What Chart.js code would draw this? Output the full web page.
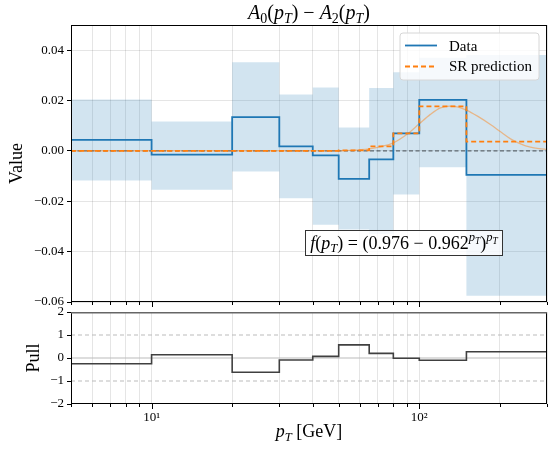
<!DOCTYPE html>
<html>
<head>
<meta charset="utf-8">
<script src="https://cdn.jsdelivr.net/npm/chart.js@4"></script>
<style>
  body { margin: 0; background: #fff; }
  #wrap { position: relative; width: 548px; height: 452px; overflow: hidden; }
  canvas { position: absolute; left: 0; }
  #top { top: 0; }
  #bot { top: 301px; }
</style>
</head>
<body>
<div id="wrap">
  <canvas id="top" width="548" height="314"></canvas>
  <canvas id="bot" width="548" height="151"></canvas>
</div>
<script>
// bin edges in pT (GeV)
const edges = [5, 10, 20, 30, 40, 50, 65, 80, 100, 150, 300];

// one value per bin
const dataVals = [0.0044, -0.0015, 0.0134, 0.0018, -0.0018, -0.0111, -0.0034, 0.0070, 0.0203, -0.0095];
const bandHi   = [0.0204, 0.0117, 0.0352, 0.0224, 0.0252, 0.0093, 0.0250, 0.0312, 0.0370, 0.0381];
const bandLo   = [-0.0118, -0.0154, -0.0082, -0.0188, -0.0293, -0.0312, -0.0330, -0.0173, -0.0065, -0.0575];
const srPred   = [0, 0, 0, 0, 0, 0.0002, 0.0018, 0.0070, 0.0177, 0.0037];
const pull     = [-0.25, 0.14, -0.62, -0.09, 0.07, 0.57, 0.20, -0.01, -0.10, 0.27];

// smooth SR curve
const curveX = [5, 30, 45, 55, 65, 72, 80, 90, 100, 110, 120, 130, 140, 150, 165, 185, 200, 220, 240, 260, 280, 300];
const curveY = [0, 0, 0, 0.0002, 0.0008, 0.0017, 0.0032, 0.0066, 0.0108, 0.0145, 0.0171, 0.0178, 0.0174, 0.0162, 0.0138, 0.0104, 0.0078, 0.0047, 0.0027, 0.0015, 0.0009, 0.0006];

// ticks
const xTicks = [5, 6, 7, 8, 9, 10, 20, 30, 40, 50, 60, 70, 80, 90, 100, 200, 300];
const xMajor = [10, 100];
const xLabels = {10: '10¹', 100: '10²'};
const yTicksTop = [-0.06, -0.04, -0.02, 0, 0.02, 0.04];
const yTicksPull = [-2, -1, 0, 1, 2];

const SERIF = '"Liberation Serif", "DejaVu Serif", serif';
const GRID = 'rgba(0,0,0,0.1)';

function steps(vals) {
  let pts = vals.map((v, i) => ({x: edges[i], y: v}));
  pts.push({x: edges[edges.length - 1], y: vals[vals.length - 1]});
  return pts;
}
function hline(y) {
  return [{x: edges[0], y: y}, {x: edges[edges.length - 1], y: y}];
}
function minus(s) { return s.replace('-', '−'); }

// simple math-ish text: [text, style]
const STY = {
  r: [false, 1, 0], i: [true, 1, 0],
  sub: [false, 0.7, 0.22], subi: [true, 0.7, 0.22],
  supi: [true, 0.7, -0.4], ssubi: [true, 0.52, -0.26]
};
function measureMath(ctx, parts, size) {
  let w = 0;
  parts.forEach(([t, s]) => {
    let [it, k] = STY[s];
    ctx.font = (it ? 'italic ' : '') + (size * k).toFixed(1) + 'px ' + SERIF;
    w += ctx.measureText(t).width;
  });
  return w;
}
function drawMath(ctx, parts, x, y, size, align) {
  let cx = align === 'center' ? x - measureMath(ctx, parts, size) / 2 : x;
  ctx.textAlign = 'left';
  ctx.textBaseline = 'alphabetic';
  ctx.fillStyle = '#000';
  parts.forEach(([t, s]) => {
    let [it, k, dy] = STY[s];
    ctx.font = (it ? 'italic ' : '') + (size * k).toFixed(1) + 'px ' + SERIF;
    ctx.fillText(t, cx, y + dy * size);
    cx += ctx.measureText(t).width;
  });
}
function rotLabel(ctx, text, x, y, size) {
  ctx.save();
  ctx.translate(x, y);
  ctx.rotate(-Math.PI / 2);
  ctx.font = size + 'px ' + SERIF;
  ctx.fillStyle = '#000';
  ctx.textAlign = 'center';
  ctx.textBaseline = 'middle';
  ctx.fillText(text, 0, 0);
  ctx.restore();
}
function frameAndTicks(chart) {
  const ctx = chart.ctx, a = chart.chartArea, xs = chart.scales.x;
  ctx.save();
  ctx.strokeStyle = '#000';
  ctx.lineWidth = 1;
  ctx.strokeRect(a.left + 0.5, a.top + 0.5, a.right - a.left - 1, a.bottom - a.top - 1);
  xTicks.forEach(v => {
    let px = Math.round(xs.getPixelForValue(v)) + 0.5;
    let len = xMajor.includes(v) ? 5 : 3;
    ctx.beginPath();
    ctx.moveTo(px, a.bottom);
    ctx.lineTo(px, a.bottom + len);
    ctx.stroke();
  });
  ctx.restore();
}

const topDecor = {
  id: 'topDecor',
  afterDraw(chart) {
    const ctx = chart.ctx, a = chart.chartArea;
    frameAndTicks(chart);
    ctx.save();
    // title
    drawMath(ctx, [['A', 'i'], ['0', 'sub'], ['(', 'r'], ['p', 'i'], ['T', 'subi'], [')', 'r'], [' − ', 'r'],
                   ['A', 'i'], ['2', 'sub'], ['(', 'r'], ['p', 'i'], ['T', 'subi'], [')', 'r']],
             (a.left + a.right) / 2, 19, 20, 'center');
    rotLabel(ctx, 'Value', 17, (a.top + a.bottom) / 2, 18);

    // legend
    let lx = 400, ly = 33, lw = 139, lh = 47, r = 3;
    ctx.beginPath();
    ctx.moveTo(lx + r, ly);
    ctx.arcTo(lx + lw, ly, lx + lw, ly + lh, r);
    ctx.arcTo(lx + lw, ly + lh, lx, ly + lh, r);
    ctx.arcTo(lx, ly + lh, lx, ly, r);
    ctx.arcTo(lx, ly, lx + lw, ly, r);
    ctx.closePath();
    ctx.fillStyle = 'rgba(255,255,255,0.8)';
    ctx.fill();
    ctx.strokeStyle = '#d6d6d6';
    ctx.lineWidth = 1;
    ctx.stroke();
    ctx.lineWidth = 1.8;
    ctx.strokeStyle = '#1f77b4';
    ctx.beginPath(); ctx.moveTo(405, 45.5); ctx.lineTo(437, 45.5); ctx.stroke();
    ctx.strokeStyle = '#ff7f0e';
    ctx.setLineDash([5, 3]);
    ctx.beginPath(); ctx.moveTo(405, 66.5); ctx.lineTo(437, 66.5); ctx.stroke();
    ctx.setLineDash([]);
    ctx.fillStyle = '#000';
    ctx.font = '15px ' + SERIF;
    ctx.textAlign = 'left';
    ctx.textBaseline = 'alphabetic';
    ctx.fillText('Data', 449, 50.5);
    ctx.fillText('SR prediction', 449, 71);

    // formula box
    const fparts = [['f', 'i'], ['(', 'r'], ['p', 'i'], ['T', 'subi'], [')', 'r'], [' = (0.976 − 0.962', 'r'],
                    ['p', 'supi'], ['T', 'ssubi'], [')', 'r'], ['p', 'supi'], ['T', 'ssubi']];
    let fw = measureMath(ctx, fparts, 18);
    let bx = Math.round(404 - fw / 2 - 5), by = 230, bw = Math.round(fw + 10), bh = 25;
    ctx.fillStyle = 'rgba(255,255,255,0.8)';
    ctx.fillRect(bx, by, bw, bh);
    ctx.strokeStyle = '#333';
    ctx.lineWidth = 1;
    ctx.strokeRect(bx + 0.5, by + 0.5, bw, bh);
    drawMath(ctx, fparts, 404, 248.5, 18, 'center');
    ctx.restore();
  }
};

const botDecor = {
  id: 'botDecor',
  afterDraw(chart) {
    const ctx = chart.ctx, a = chart.chartArea;
    frameAndTicks(chart);
    ctx.save();
    ctx.strokeStyle = '#666';
    ctx.lineWidth = 1.6;
    ctx.beginPath(); ctx.moveTo(a.left, a.top + 0.8); ctx.lineTo(a.right, a.top + 0.8); ctx.stroke();
    rotLabel(ctx, 'Pull', 34, (a.top + a.bottom) / 2, 18);
    drawMath(ctx, [['p', 'i'], ['T', 'subi'], [' [GeV]', 'r']], (a.left + a.right) / 2, 136, 18, 'center');
    ctx.restore();
  }
};

const tickFont = {family: SERIF, size: 13};

function xScale(showLabels) {
  return {
    type: 'logarithmic', min: 5, max: 300,
    afterBuildTicks: s => { s.ticks = xTicks.map(v => ({value: v, major: xMajor.includes(v)})); },
    ticks: {
      display: showLabels, autoSkip: false, maxRotation: 0, padding: 0,
      font: tickFont, color: '#000',
      callback: v => xLabels[v] || ''
    },
    // invisible tick marks only push the labels down; the visible ones come from frameAndTicks
    grid: {color: GRID, drawTicks: true, tickLength: 6, tickColor: 'rgba(0,0,0,0)'},
    border: {display: false},
    afterFit: s => { s.height = showLabels ? 48 : 12; }
  };
}

const common = {
  responsive: false,
  animation: false,
  events: [],
  elements: {point: {radius: 0}, line: {borderJoinStyle: 'miter'}},
  plugins: {legend: {display: false}, tooltip: {enabled: false}}
};

new Chart(document.getElementById('top'), {
  type: 'line',
  data: {
    datasets: [
      {label: 'band hi', data: steps(bandHi), stepped: true, fill: '+1', backgroundColor: 'rgba(31,119,180,0.2)', borderWidth: 0, order: 10},
      {label: 'band lo', data: steps(bandLo), stepped: true, fill: false, borderWidth: 0, order: 11},
      {label: 'zero', data: hline(0), borderColor: 'rgba(0,0,0,0.65)', borderWidth: 1, borderDash: [4, 2.5], order: 6},
      {label: 'curve', data: curveX.map((x, i) => ({x: x, y: curveY[i]})), borderColor: 'rgba(255,127,14,0.45)', borderWidth: 1.3, cubicInterpolationMode: 'monotone', order: 5},
      {label: 'Data', data: steps(dataVals), stepped: true, borderColor: '#1f77b4', borderWidth: 1.8, order: 3},
      {label: 'SR prediction', data: steps(srPred), stepped: true, borderColor: '#ff7f0e', borderWidth: 1.8, borderDash: [5, 3], order: 2}
    ]
  },
  options: Object.assign({}, common, {
    layout: {padding: {top: 25, right: 1, left: 0, bottom: 0}},
    scales: {
      x: xScale(false),
      y: {
        min: -0.06, max: 0.05,
        afterBuildTicks: s => { s.ticks = yTicksTop.map(v => ({value: v})); },
        ticks: {font: tickFont, color: '#000', padding: 3, callback: v => minus(v.toFixed(2))},
        grid: {color: GRID, tickLength: 4, tickColor: '#000'},
        border: {display: false},
        afterFit: s => { s.width = 71; }
      }
    }
  }),
  plugins: [topDecor]
});

new Chart(document.getElementById('bot'), {
  type: 'line',
  data: {
    datasets: [
      {label: 'zero', data: hline(0), borderColor: '#bbbbbb', borderWidth: 1.2, order: 6},
      {label: 'plus1', data: hline(1), borderColor: '#bbbbbb', borderWidth: 1, borderDash: [4, 3], order: 7},
      {label: 'minus1', data: hline(-1), borderColor: '#bbbbbb', borderWidth: 1, borderDash: [4, 3], order: 8},
      {label: 'Pull', data: steps(pull), stepped: true, borderColor: '#404040', borderWidth: 1.6, order: 1}
    ]
  },
  options: Object.assign({}, common, {
    layout: {padding: {top: 11, right: 1, left: 0, bottom: 0}},
    scales: {
      x: xScale(true),
      y: {
        min: -2, max: 2,
        afterBuildTicks: s => { s.ticks = yTicksPull.map(v => ({value: v})); },
        ticks: {font: tickFont, color: '#000', padding: 3, callback: v => minus(String(v))},
        grid: {drawOnChartArea: false, tickLength: 4, tickColor: '#000'},
        border: {display: false},
        afterFit: s => { s.width = 71; }
      }
    }
  }),
  plugins: [botDecor]
});
</script>
</body>
</html>
